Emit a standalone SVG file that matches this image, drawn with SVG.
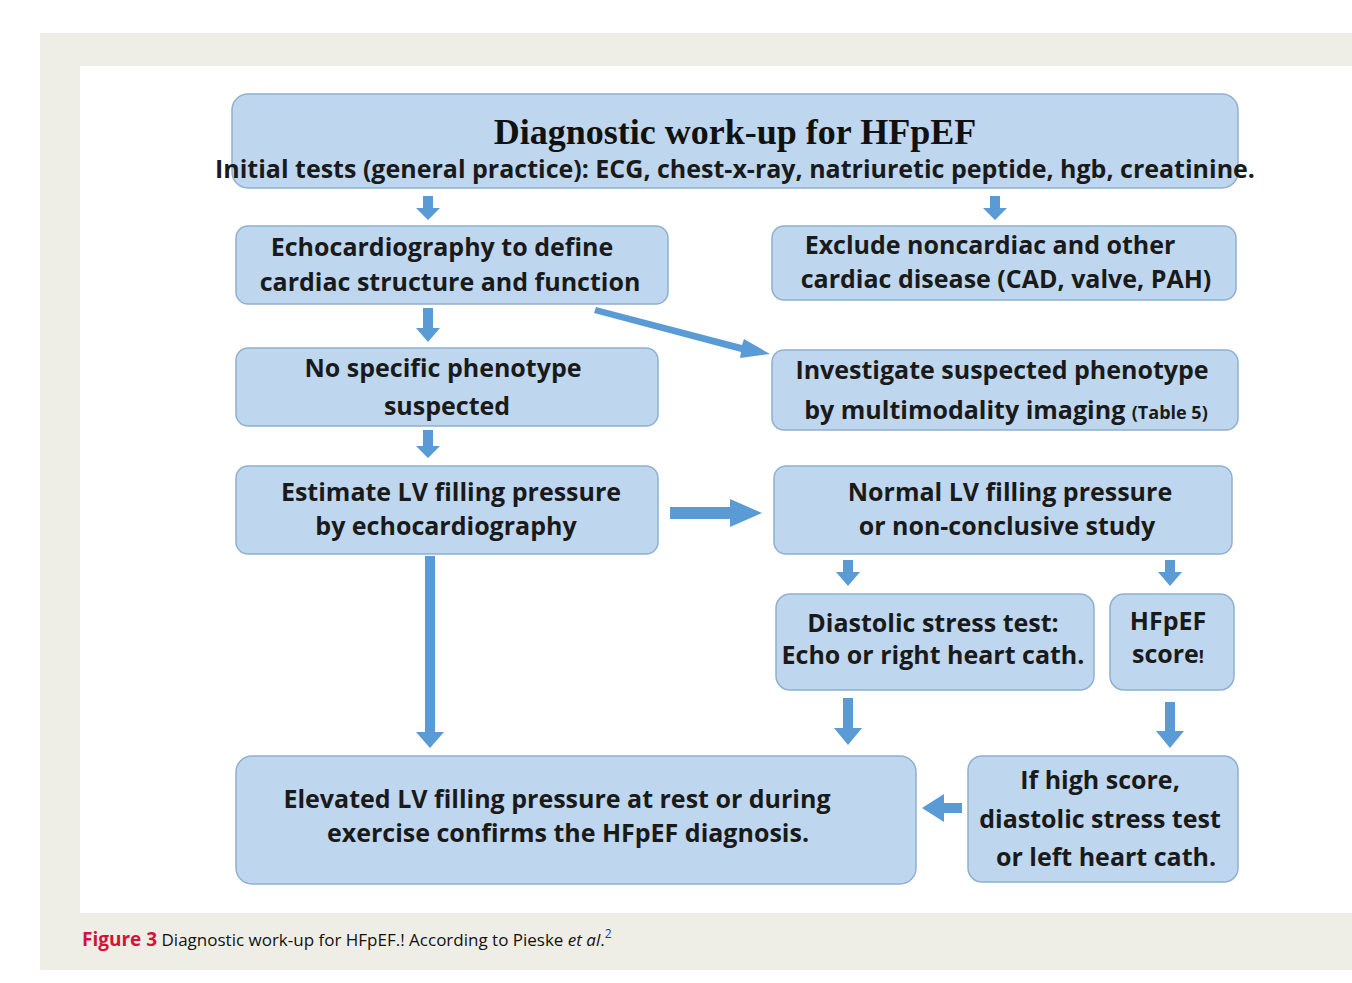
<svg xmlns="http://www.w3.org/2000/svg" width="1352" height="983" viewBox="0 0 1352 983">
<style>
.box{fill:#bfd7ee;stroke:#8fb0d0;stroke-width:1.5}
.t{font-family:"Open Sans","Liberation Sans",sans-serif;font-weight:bold;font-size:25px;fill:#1a1a1a;text-anchor:middle}
.ar{fill:#5b9bd5}
</style>
<rect width="1352" height="983" fill="#fff"/>
<rect x="40" y="33" width="1312" height="937" fill="#efeee6"/>
<rect x="80" y="66" width="1272" height="847" fill="#fff"/>
<g id="n-top"><rect class="box" x="232" y="94" width="1006" height="94" rx="16"/>
<text x="735" y="144" text-anchor="middle" font-family="Liberation Serif,serif" font-weight="bold" font-size="36" fill="#111">Diagnostic work-up for HFpEF</text>
<text class="t" x="735" y="178" font-size="20">Initial tests (general practice): ECG, chest-x-ray, natriuretic peptide, hgb, creatinine.</text></g>
<g id="n-echo"><rect class="box" x="236" y="226" width="432" height="78" rx="12"/>
<text class="t" x="442" y="256">Echocardiography to define</text><text class="t" x="450" y="291">cardiac structure and function</text></g>
<g id="n-exclude"><rect class="box" x="772" y="226" width="464" height="74" rx="12"/>
<text class="t" x="990" y="254">Exclude noncardiac and other</text><text class="t" x="1006" y="288">cardiac disease (CAD, valve, PAH)</text></g>
<g id="n-nospec"><rect class="box" x="236" y="348" width="422" height="78" rx="12"/>
<text class="t" x="443" y="377">No specific phenotype</text><text class="t" x="447" y="415">suspected</text></g>
<g id="n-invest"><rect class="box" x="772" y="350" width="466" height="80" rx="12"/>
<text class="t" x="1002" y="379">Investigate suspected phenotype</text><text class="t" x="1006" y="419">by multimodality imaging <tspan font-size="18">(Table 5)</tspan></text></g>
<g id="n-estimate"><rect class="box" x="236" y="466" width="422" height="88" rx="12"/>
<text class="t" x="451" y="501">Estimate LV filling pressure</text><text class="t" x="446" y="535">by echocardiography</text></g>
<g id="n-normal"><rect class="box" x="774" y="466" width="458" height="88" rx="12"/>
<text class="t" x="1010" y="501">Normal LV filling pressure</text><text class="t" x="1007" y="535">or non-conclusive study</text></g>
<g id="n-diast"><rect class="box" x="776" y="594" width="318" height="96" rx="14"/>
<text class="t" x="933" y="632">Diastolic  stress test:</text><text class="t" x="933" y="664" font-size="21">Echo or right heart cath.</text></g>
<g id="n-score"><rect class="box" x="1110" y="594" width="124" height="96" rx="14"/>
<text class="t" x="1168" y="630">HFpEF</text><text class="t" x="1168" y="663">score<tspan font-size="18">!</tspan></text></g>
<g id="n-elev"><rect class="box" x="236" y="756" width="680" height="128" rx="16"/>
<text class="t" x="557" y="808">Elevated LV filling pressure at rest or during</text><text class="t" x="568" y="842">exercise confirms  the HFpEF diagnosis.</text></g>
<g id="n-high"><rect class="box" x="968" y="756" width="270" height="126" rx="14"/>
<text class="t" x="1100" y="789">If high score,</text><text class="t" x="1100" y="828">diastolic stress test</text><text class="t" x="1106" y="866">or left heart cath.</text></g>
<g id="connectors" class="ar">
<polygon points="423,196 433,196 433,208 440,208 428,220 416,208 423,208"/>
<polygon points="990,196 1000,196 1000,208 1007,208 995,220 983,208 990,208"/>
<polygon points="423,308 433,308 433,328 440,328 428,342 416,328 423,328"/>
<polygon points="423,430 433,430 433,446 440,446 428,458 416,446 423,446"/>
<polygon points="843,560 853,560 853,572 860,572 848,586 836,572 843,572"/>
<polygon points="1165,560 1175,560 1175,572 1182,572 1170,586 1158,572 1165,572"/>
<polygon points="425,556 435,556 435,732 444,732 430,748 416,732 425,732"/>
<polygon points="843,698 853,698 853,728 862,728 848,745 834,728 843,728"/>
<polygon points="1165,702 1175,702 1175,731 1184,731 1170,748 1156,731 1165,731"/>
<polygon points="670,507 730,507 730,499 762,513 730,527 730,519 670,519"/>
<polygon points="962,803 944,803 944,794 922,808 944,822 944,813 962,813"/>
<polygon points="596,307 742,345 744,339 770,354 740,358 741,352 594,313"/>
</g>
<text x="82" y="946" font-family="Open Sans,Liberation Sans,sans-serif" font-size="17" fill="#111"><tspan font-weight="bold" fill="#d2143a" font-size="19">Figure 3</tspan> Diagnostic work-up for HFpEF.! According to Pieske <tspan font-style="italic">et al</tspan>.<tspan fill="#2030d0" font-size="12" dy="-8">2</tspan></text>
</svg>
